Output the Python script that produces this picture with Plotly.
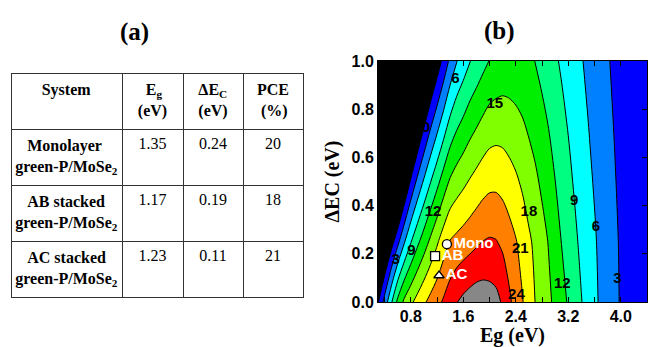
import plotly.graph_objects as go

# ---------------- data ----------------
# Panel (b): PCE (%), on a grid of Eg (eV) x dEc (eV)
eg_axis = [0.3, 0.4, 0.5, 0.6, 0.7, 0.8, 0.9, 1.0, 1.1, 1.2, 1.3, 1.4, 1.5, 1.6,
           1.7, 1.8, 1.9, 2.0, 2.1, 2.2, 2.3, 2.4, 2.5, 2.6, 2.7, 2.8, 2.9, 3.0,
           3.1, 3.2, 3.3, 3.4, 3.5, 3.6, 3.7, 3.8, 3.9, 4.0, 4.1, 4.2, 4.3, 4.4]
dec_axis = [0.0, 0.25, 1.0]
pce_dec_000 = [-0.3, 4.0, 8.5, 12.7, 15.6, 17.4, 19.05, 20.55, 21.9, 23.1, 24.4, 25.7,
               26.9, 27.7, 28.3, 28.7, 28.7, 28.4, 27.9, 26.6, 24.6, 22.8, 21.2, 19.5,
               17.9, 16.7, 15.6, 14.3, 13.0, 11.7, 10.4, 9.1, 7.9, 6.6, 5.5, 4.5, 3.6,
               2.8, 2.3, 1.8, 1.3, 0.8]
pce_dec_025 = [-10.0, -5.2, -1.5, 2.2, 5.7, 8.8, 11.3, 13.5, 15.6, 17.6, 19.6, 21.2,
               21.8, 22.35, 22.9, 23.5, 24.05, 24.3, 24.15, 23.4, 22.3, 21.2, 19.9, 18.5,
               17.3, 16.1, 14.85, 13.35, 11.9, 10.7, 9.5, 8.4, 7.3, 6.3, 5.3, 4.4, 3.5,
               2.7, 2.2, 1.7, 1.2, 0.7]
pce_dec_100 = [-40.0, -34.8, -32.7, -28.4, -22.2, -16.4, -11.7, -7.9, -4.6, -1.8, 0.9, 3.7,
               5.9, 7.4, 8.9, 10.0, 11.1, 12.1, 12.6, 13.0, 13.1, 13.0, 12.8, 12.4,
               11.95, 11.1, 10.3, 9.4, 8.6, 7.8, 7.0, 6.2, 5.4, 4.7, 3.95, 3.2, 2.6,
               2.1, 1.6, 1.2, 0.8, 0.5]

level_start, level_end, level_step = 0, 24, 3
top_level = 27
band_colors = ["#000000", "#0000ff", "#0080ff", "#00ffff", "#00ff80",
               "#00ee00", "#80ff00", "#ffff00", "#ff8000", "#ff0000"]
top_color = "#878787"

# contour-level labels as placed in the reference (level text, Eg, dEc)
label_text = ["0", "3", "9", "12", "6", "15", "18", "21", "24", "12", "9", "6", "3"]
label_eg = [1.03, 0.57, 0.81, 1.14, 1.48, 2.08, 2.60, 2.47, 2.41, 3.11, 3.29, 3.62, 3.95]
label_dec = [0.72, 0.174, 0.209, 0.372, 0.924, 0.82, 0.372, 0.219, 0.03, 0.075, 0.416, 0.312, 0.094]

# Panel (a) table / markers
systems = ["Monolayer", "AB stacked", "AC stacked"]
system_suffix = "green-P/MoSe<sub>2</sub>"
eg_vals = [1.35, 1.17, 1.23]
dec_vals = [0.24, 0.19, 0.11]
pce_vals = [20, 18, 21]
short_names = ["Mono", "AB", "AC"]
marker_symbols = ["circle", "square", "triangle-up"]
header_top = ["System", "E<sub>g</sub>", "ΔE<sub>C</sub>", "PCE"]
header_bottom = ["", "(eV)", "(eV)", "(%)"]

x_ticks = [0.8, 1.6, 2.4, 3.2, 4.0]
y_ticks = [0.0, 0.2, 0.4, 0.6, 0.8, 1.0]

# ---------------- figure ----------------
W, H = 648, 347
serif = "Liberation Serif"
sans = "Liberation Sans"
NB = "\u00a0"

z_grid = [pce_dec_000, pce_dec_025, pce_dec_100]
n = len(band_colors) - 1
colorscale = [[i / n, c] for i, c in enumerate(band_colors)]

fig = go.Figure()

fig.add_trace(go.Contour(
    x=eg_axis, y=dec_axis, z=z_grid,
    autocontour=False,
    contours=dict(start=level_start, end=level_end, size=level_step,
                  coloring="fill", showlabels=False),
    colorscale=colorscale, showscale=False,
    line=dict(color="black", width=1, smoothing=0.8),
    hoverinfo="skip",
))

# region above the top level (grey), shaded as the excluded side of a "< 27" constraint
fig.add_trace(go.Contour(
    x=eg_axis, y=dec_axis, z=z_grid,
    contours=dict(type="constraint", operation="<", value=top_level),
    fillcolor=top_color, showscale=False,
    line=dict(color="black", width=1, smoothing=0.8),
    hoverinfo="skip",
))

# contour level labels (horizontal, as in the reference)
fig.add_trace(go.Scatter(
    x=label_eg, y=label_dec, mode="text", text=label_text,
    textposition="middle center",
    textfont=dict(family=sans, size=15, color="black", weight="bold"),
    hoverinfo="skip", showlegend=False, cliponaxis=False,
))

fig.add_trace(go.Scatter(
    x=eg_vals, y=dec_vals, mode="markers+text",
    text=short_names, textposition="middle right",
    textfont=dict(family=sans, size=15, color="white", weight="bold"),
    marker=dict(symbol=marker_symbols, size=9, color="white",
                line=dict(color="black", width=1.3)),
    hoverinfo="skip", showlegend=False,
))

# multi-line table cells: pad the first line so each line looks centred
pad_first = [NB * 3, NB * 3, NB * 3]
name_col = [f"<b>{p}{s}</b><br><b>{system_suffix}</b>" for p, s in zip(pad_first, systems)]
head_pad_top = ["", NB * 2, "", ""]
head_pad_bottom = ["", "", "", NB]
header_col = []
for t, b, pt, pb in zip(header_top, header_bottom, head_pad_top, head_pad_bottom):
    header_col.append(f"<b>{pt}{t}</b>" + (f"<br><b>{pb}{b}</b>" if b else ""))

fig.add_trace(go.Table(
    domain=dict(x=[11 / W, 304 / W], y=[1 - 330 / H, 1 - 73 / H]),
    columnwidth=[111, 61, 60, 60],
    header=dict(values=header_col,
                align="center", height=56,
                font=dict(family=serif, size=16, color="black"),
                fill_color="white", line=dict(color="#333333", width=1)),
    cells=dict(values=[name_col,
                       [f"{v:.2f}" for v in eg_vals],
                       [f"{v:.2f}" for v in dec_vals],
                       [f"{v}" for v in pce_vals]],
               align="center", height=55,
               font=dict(family=serif, size=16, color="black"),
               fill_color="white", line=dict(color="#333333", width=1)),
))

axis_common = dict(showline=True, linecolor="black", linewidth=1, mirror="ticks",
                   ticks="inside", ticklen=5, tickcolor="black", showgrid=False,
                   zeroline=False, automargin=False,
                   tickfont=dict(family=sans, size=16, color="black", weight="bold"))

fig.update_layout(
    width=W, height=H, autosize=False,
    margin=dict(l=0, r=0, t=0, b=0),
    paper_bgcolor="white", plot_bgcolor="white", showlegend=False,
    xaxis=dict(domain=[378 / W, 647 / W], range=[0.3, 4.4],
               tickvals=x_ticks, tickformat=".1f",
               minor=dict(dtick=0.4, tick0=0, ticks="inside", ticklen=5,
                          tickcolor="black", showgrid=False),
               title=dict(text="Eg (eV)", standoff=10,
                          font=dict(family=serif, size=20, color="black", weight="bold")),
               **axis_common),
    yaxis=dict(domain=[1 - 302 / H, 1 - 61 / H], range=[0, 1],
               tickvals=y_ticks, tickformat=".1f",
               title=dict(text="ΔEC (eV)", standoff=6,
                          font=dict(family=serif, size=20, color="black", weight="bold")),
               **axis_common),
    annotations=[
        dict(text="<b>(a)</b>", x=134 / W, y=1 - 32 / H, xref="paper", yref="paper",
             xanchor="center", yanchor="middle",
             showarrow=False, font=dict(family=serif, size=25, color="black")),
        dict(text="<b>(b)</b>", x=499 / W, y=1 - 31 / H, xref="paper", yref="paper",
             xanchor="center", yanchor="middle",
             showarrow=False, font=dict(family=serif, size=25, color="black")),
    ],
)

# the page's default 8px body margin would shift the whole figure; remove it
fig.write_html("out.html", config={"displayModeBar": False},
               post_script="document.body.style.margin='0';")
